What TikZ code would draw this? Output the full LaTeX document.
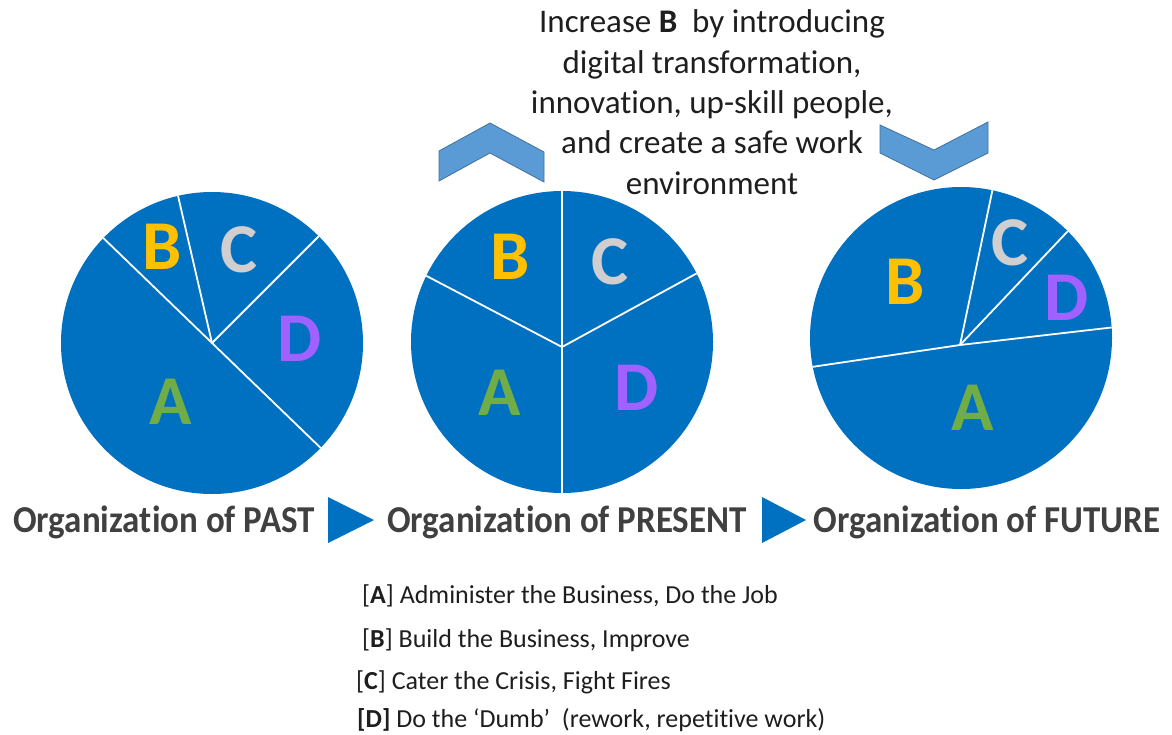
\documentclass[tikz,border=0pt]{standalone}
\usepackage{fontspec}
\setmainfont{Carlito}[Ligatures=NoCommon]
\definecolor{pieblue}{HTML}{0070C0}
\definecolor{chevfill}{HTML}{5B9BD5}
\definecolor{chevline}{HTML}{41719C}
\definecolor{letA}{HTML}{70AD47}
\definecolor{letB}{HTML}{FFC000}
\definecolor{letC}{HTML}{D0CECE}
\definecolor{letD}{HTML}{A061FF}
\definecolor{labgray}{HTML}{404040}
\definecolor{txtdark}{HTML}{1E1E1E}
\begin{document}
\begin{tikzpicture}[x=1pt,y=-1pt,
  pie/.style={circle,fill=pieblue,draw=none,inner sep=0pt,outer sep=0pt,minimum size=302pt},
  slice/.style={draw=white,line width=1.8pt},
  letter/.style={font=\fontsize{70}{70}\selectfont\bfseries,inner sep=0pt},
  orglabel/.style={font=\fontsize{38}{38}\selectfont\bfseries,text=labgray,anchor=base,inner sep=0pt},
  playtri/.style={fill=pieblue,draw=none},
  chev/.style={fill=chevfill,draw=chevline,line width=0.8pt,line join=miter},
  legend/.style={font=\fontsize{26}{26}\selectfont,text=txtdark,anchor=base west,inner sep=0pt}]
\useasboundingbox (0,0) rectangle (1172,734);

% ---- pie 1 (past)
\node[pie] (pie1) at (212,343) {};
\coordinate (h1) at (212,343);
\draw[slice] (pie1.136) -- (h1) -- (pie1.316);
\draw[slice] (h1) -- (pie1.103);
\draw[slice] (h1) -- (pie1.45);
\node[letter,text=letB] (b1) at (162,247) {B};
\node[letter,text=letC] (c1) at (239,250) {C};
\node[letter,text=letD] (d1) at (300,339) {D};
\node[letter,text=letA] (a1) at (171,402) {A};

% ---- pie 2 (present)
\node[pie] (pie2) at (562,342) {};
\coordinate (h2) at (562,347);
\draw[slice] (pie2.90) -- (h2) -- (pie2.270);
\draw[slice] (h2) -- (pie2.154);
\draw[slice] (h2) -- (pie2.27);
\node[letter,text=letB] (b2) at (510,257) {B};
\node[letter,text=letC] (c2) at (610,262) {C};
\node[letter,text=letA] (a2) at (500,393) {A};
\node[letter,text=letD] (d2) at (637,388) {D};

% ---- pie 3 (future)
\node[pie] (pie3) at (961,338) {};
\coordinate (h3) at (960,345);
\draw[slice] (pie3.191) -- (h3) -- (pie3.4);
\draw[slice] (h3) -- (pie3.78);
\draw[slice] (h3) -- (pie3.45);
\node[letter,text=letB] (b3) at (905,282) {B};
\node[letter,text=letC] (c3) at (1010,243) {C};
\node[letter,text=letD] (d3) at (1067,298) {D};
\node[letter,text=letA] (a3) at (973,408) {A};

% ---- chevrons
\draw[chev] (439,181) -- (439,151) -- (490,123) -- (544,152) -- (544,182) -- (490,153) -- cycle;
\draw[chev] (880,125) -- (934,150) -- (988,122) -- (988,153) -- (934,180) -- (880,153) -- cycle;

% ---- top text
\node[font=\fontsize{33}{40.3}\selectfont,text=txtdark,align=center,anchor=base,inner sep=0pt] (note) at (712,194)
  {Increase \textbf{B}\ \ by introducing\\digital transformation,\\innovation, up-skill people,\\and create a safe work\\environment};

% ---- labels and play triangles
\node[orglabel] (past) at (164,532) {\scalebox{0.92}[1]{Organization of PAST}};
\node[orglabel] (present) at (567,532) {\scalebox{0.92}[1]{Organization of PRESENT}};
\node[orglabel] (future) at (987,532) {\scalebox{0.92}[1]{Organization of FUTURE}};
\fill[playtri] (328,497) -- (374,520) -- (328,543) -- cycle;
\fill[playtri] (762,497) -- (806,520) -- (762,543) -- cycle;

% ---- legend
\node[legend] (la) at (362,603) {[\textbf{A}] Administer the Business, Do the Job};
\node[legend] (lb) at (362,647) {[\textbf{B}] Build the Business, Improve};
\node[legend] (lc) at (356,689) {[\textbf{C}] Cater the Crisis, Fight Fires};
\node[legend] (ld) at (357,727) {\textbf{[D]} Do the ‘Dumb’\ \ (rework, repetitive work)};
\end{tikzpicture}
\end{document}
